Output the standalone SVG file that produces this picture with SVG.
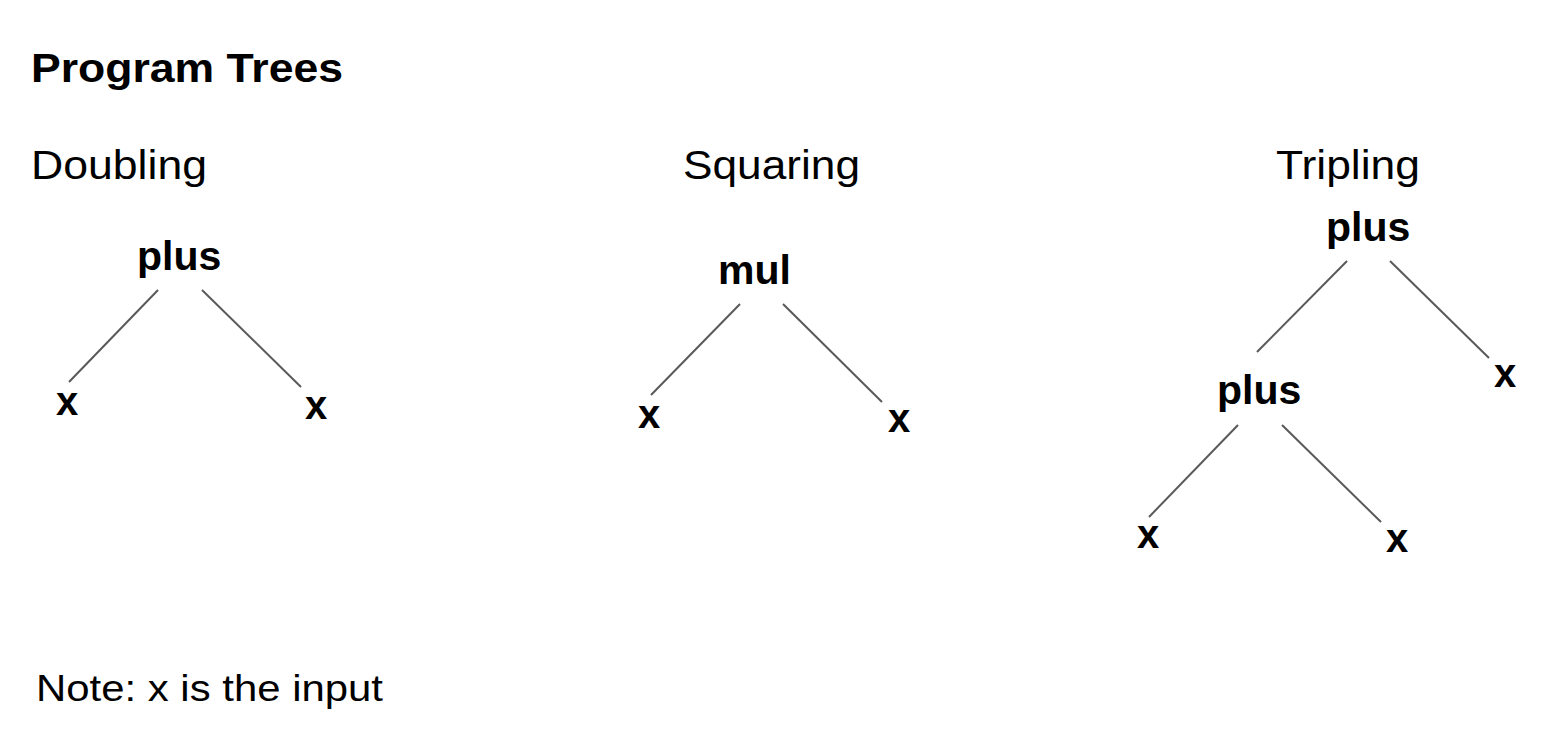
<svg xmlns="http://www.w3.org/2000/svg" width="1558" height="748" viewBox="0 0 1558 748">
<style>
text{font-family:"Liberation Sans",Arial,sans-serif;fill:#000}
.title{font-size:41px;font-weight:bold}
.head{font-size:41px}
.op{font-size:41px;font-weight:bold}
.leaf{font-size:40px;font-weight:bold}
.note{font-size:37px}
line{stroke:#595959;stroke-width:2}
</style>
<rect width="1558" height="748" fill="#fff"/>
<text class="title" x="31" y="82" textLength="312" lengthAdjust="spacingAndGlyphs">Program Trees</text>
<text class="head" x="31" y="179" textLength="176" lengthAdjust="spacingAndGlyphs">Doubling</text>
<text class="head" x="683" y="179" textLength="177" lengthAdjust="spacingAndGlyphs">Squaring</text>
<text class="head" x="1276" y="179" textLength="144" lengthAdjust="spacingAndGlyphs">Tripling</text>
<g id="connectors">
<line x1="158" y1="290" x2="69" y2="382"/>
<line x1="202" y1="290" x2="301" y2="387"/>
<line x1="740" y1="304" x2="651" y2="395"/>
<line x1="783" y1="304" x2="882" y2="402"/>
<line x1="1347" y1="261" x2="1257" y2="352"/>
<line x1="1390" y1="261" x2="1489" y2="358"/>
<line x1="1238" y1="425" x2="1149" y2="517"/>
<line x1="1282" y1="425" x2="1381" y2="522"/>
</g>
<g id="d-plus"><text class="op" x="137" y="270">plus</text></g>
<g id="d-x1"><text class="leaf" x="56" y="415">x</text></g>
<g id="d-x2"><text class="leaf" x="305" y="419">x</text></g>
<g id="s-mul"><text class="op" x="718" y="284">mul</text></g>
<g id="s-x1"><text class="leaf" x="638" y="428">x</text></g>
<g id="s-x2"><text class="leaf" x="888" y="432">x</text></g>
<g id="t-plus"><text class="op" x="1326" y="241">plus</text></g>
<g id="t-x"><text class="leaf" x="1494" y="387">x</text></g>
<g id="t-plus2"><text class="op" x="1217" y="404">plus</text></g>
<g id="t-x1"><text class="leaf" x="1137" y="548">x</text></g>
<g id="t-x2"><text class="leaf" x="1386" y="552">x</text></g>
<text class="note" x="36" y="701" textLength="347" lengthAdjust="spacingAndGlyphs">Note: x is the input</text>
</svg>
